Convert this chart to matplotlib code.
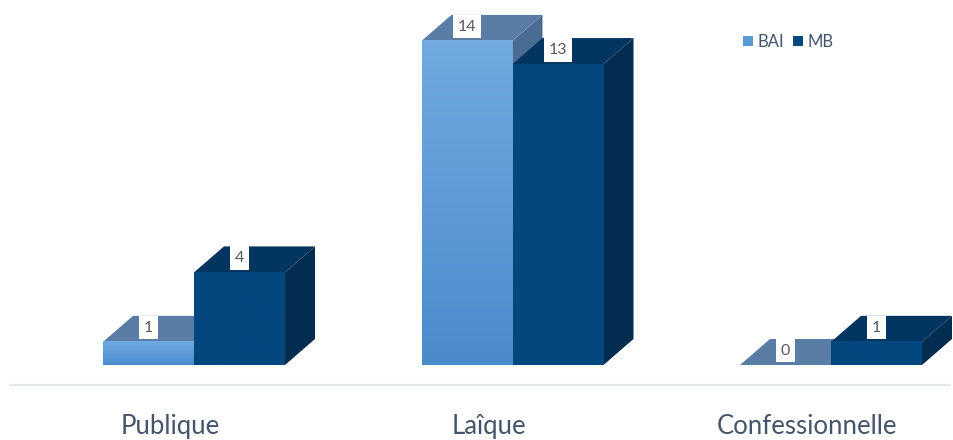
import numpy as np
import matplotlib
matplotlib.use("Agg")
import matplotlib.pyplot as plt
from matplotlib.patches import Polygon, Patch
from matplotlib.colors import LinearSegmentedColormap

categories = ["Publique", "Laîque", "Confessionnelle"]
series_names = ["BAI", "MB"]
bai_values = [1, 14, 0]
mb_values = [4, 13, 1]

W, H, DPI = 954, 440, 100
fig = plt.figure(figsize=(W / DPI, H / DPI), dpi=DPI)
ax = fig.add_axes([0, 0, 1, 1])
ax.set_axis_off()

# axis scaling (px per data unit)
px_x = 318.5
px_y = 23.15
x0_px = 194
base_px = 75
ax.set_xlim(-x0_px / px_x, (W - x0_px) / px_x)
ax.set_ylim(-base_px / px_y, (H - base_px) / px_y)

bar_w = 91 / px_x
dx = 30 / px_x
dy = 26 / px_y

text_col = "#44546a"
styles = {
    "BAI": dict(front=("#71a9e0", "#4a8bcc"), top="#5a7da6", side="#4a6c93"),
    "MB": dict(front=("#03477f", "#03477f"), top="#02355f", side="#022d51"),
}

def draw_bar(x_left, v, st, label):
    xr = x_left + bar_w
    # side
    ax.add_patch(Polygon([(xr, 0), (xr + dx, dy), (xr + dx, v + dy), (xr, v)],
                         closed=True, facecolor=st["side"], edgecolor="none", zorder=2))
    # top
    ax.add_patch(Polygon([(x_left, v), (xr, v), (xr + dx, v + dy), (x_left + dx, v + dy)],
                         closed=True, facecolor=st["top"], edgecolor="none", zorder=2))
    # front with gradient
    if v > 0:
        cmap = LinearSegmentedColormap.from_list("g", [st["front"][1], st["front"][0]])
        grad = np.linspace(0, 1, 100).reshape(-1, 1)
        ax.imshow(grad, extent=(x_left, xr, 0, v), origin="lower", cmap=cmap,
                  aspect="auto", zorder=2, interpolation="bilinear")
    # value label
    ax.text(x_left + bar_w / 2, v + dy * 0.55, str(label), ha="center", va="center",
            fontsize=11.5, color="#595959", family="Lato", zorder=5,
            bbox=dict(boxstyle="square,pad=0.3", facecolor="white", edgecolor="none"))

xs = np.arange(len(categories))
for i, c in enumerate(xs):
    draw_bar(c - bar_w, bai_values[i], styles["BAI"], bai_values[i])
    draw_bar(c, mb_values[i], styles["MB"], mb_values[i])

# floor line
ax.axhline(-20 / px_y, xmin=10 / W, xmax=950 / W, color="#e3e7ec", lw=1.5, zorder=1)

# category labels
for i, c in enumerate(xs):
    ax.text(c - 24 / px_x, -61 / px_y, categories[i], ha="center", va="center",
            fontsize=18.5, color=text_col, family="Lato")

handles = [Patch(facecolor="#5b9bd5", label="BAI"), Patch(facecolor="#03477f", label="MB")]
ax.legend(handles=handles, loc="center left", bbox_to_anchor=(743 / W, 1 - 42 / H), ncol=2,
          frameon=False, handlelength=0.6, handleheight=0.6, handletextpad=0.3,
          columnspacing=0.5, prop=dict(family="Lato", size=12), labelcolor=text_col,
          borderaxespad=0, borderpad=0)

fig.savefig("out.png", dpi=DPI)
